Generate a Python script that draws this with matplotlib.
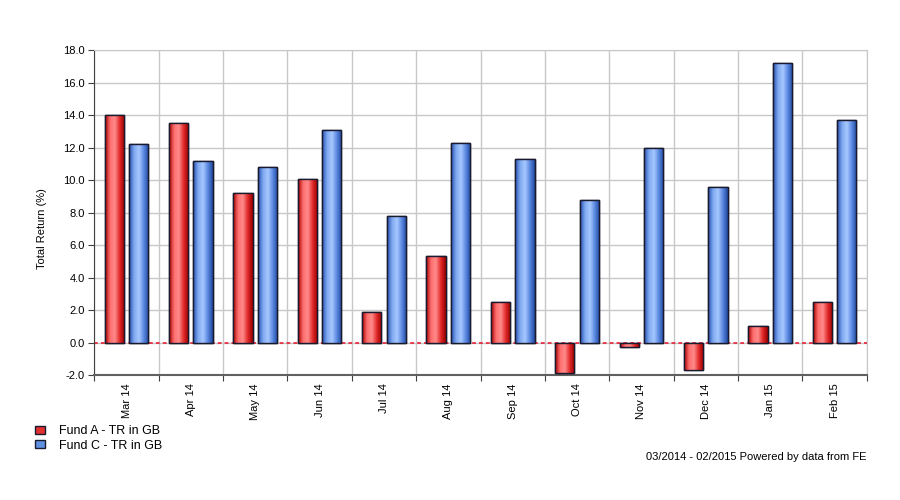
import matplotlib

matplotlib.use("Agg")
import matplotlib.pyplot as plt
import matplotlib.patches as patches
import numpy as np
from matplotlib.colors import LinearSegmentedColormap

months = ["Mar 14", "Apr 14", "May 14", "Jun 14", "Jul 14", "Aug 14",
          "Sep 14", "Oct 14", "Nov 14", "Dec 14", "Jan 15", "Feb 15"]
fund_a = [14.0, 13.5, 9.2, 10.1, 1.9, 5.3, 2.5, -1.9, -0.25, -1.7, 1.0, 2.5]
fund_c = [12.2, 11.2, 10.8, 13.1, 7.8, 12.3, 11.3, 8.8, 12.0, 9.6, 17.2, 13.7]
series_names = ["Fund A - TR in GB", "Fund C - TR in GB"]
footer = "03/2014 - 02/2015 Powered by data from FE"

plt.rcParams["font.family"] = ["Liberation Sans", "DejaVu Sans"]

red_cmap = LinearSegmentedColormap.from_list(
    "red_bar", ["#a80000", "#ff6e6e", "#ff8a8a", "#e02828", "#9a0000"])
blue_cmap = LinearSegmentedColormap.from_list(
    "blue_bar", ["#2450b0", "#7ea8f0", "#a8c8ff", "#5a88e0", "#2048a0"])
grad = np.linspace(0, 1, 64).reshape(1, -1)


def shaded_bars(ax, x, values, width, cmap, face, label):
    bars = ax.bar(x, values, width=width, color=face, edgecolor="#1a1a2e",
                  linewidth=1.0, zorder=3, label=label)
    for b in bars:
        x0, y0 = b.get_x(), b.get_y()
        w, h = b.get_width(), b.get_height()
        im = ax.imshow(grad, cmap=cmap, aspect="auto", zorder=3.5,
                       extent=(x0, x0 + w, y0, y0 + h), interpolation="bilinear")
        im.set_clip_path(b)
        edge = patches.Rectangle((x0, y0), w, h, fill=False,
                                 edgecolor="#1a1a2e", linewidth=1.0, zorder=4)
        ax.add_patch(edge)
    return bars


fig = plt.figure(figsize=(9, 5), dpi=100)
ax = fig.add_axes([0.1048, 0.25, 0.8582, 0.6494])

x = np.arange(len(months))
offset = 0.19
width = 0.3
shaded_bars(ax, x - offset, fund_a, width, red_cmap, "#e03030", series_names[0])
shaded_bars(ax, x + offset, fund_c, width, blue_cmap, "#6090e0", series_names[1])

ax.axhline(0, color="#e8102a", linestyle=(0, (2.5, 2)), linewidth=1.1, zorder=2)

ax.set_xlim(-0.5, len(months) - 0.5)
ax.set_ylim(-2, 18)
ax.set_yticks(np.arange(-2, 18.1, 2))
ax.set_yticklabels([f"{v:.1f}" for v in np.arange(-2, 18.1, 2)], fontsize=8)

ax.set_xticks(np.arange(-0.5, len(months)), minor=False)
ax.set_xticklabels([])
ax.set_xticks(x, minor=True)
ax.set_xticklabels(months, minor=True, rotation=90, fontsize=8, va="top")
ax.tick_params(axis="x", which="minor", length=0, pad=6)
ax.tick_params(axis="x", which="major", length=4, color="#404040")
ax.tick_params(axis="y", length=4, color="#404040", pad=3)

ax.grid(True, which="major", color="#c8c8c8", linewidth=1.0, zorder=0)
ax.set_axisbelow(True)
for side in ["top", "right"]:
    ax.spines[side].set_color("#c8c8c8")
ax.spines["left"].set_color("#404040")
ax.spines["bottom"].set_color("#606060")
ax.spines["bottom"].set_linewidth(1.5)

ax.set_ylabel("Total Return (%)", fontsize=8)
ax.yaxis.set_label_coords(-0.061, 0.45)

handles = [
    patches.Patch(facecolor="#e03030", edgecolor="#1a1a2e", label=series_names[0]),
    patches.Patch(facecolor="#6090e0", edgecolor="#1a1a2e", label=series_names[1]),
]
fig.legend(handles=handles, loc="upper left", bbox_to_anchor=(0.032, 0.162),
           frameon=False, fontsize=9, handlelength=0.8, handleheight=0.64,
           handletextpad=1.1, labelspacing=0.2, borderpad=0)

fig.text(0.963, 0.0866, footer, ha="right", va="center", fontsize=8)

fig.savefig("out.png", dpi=100)
